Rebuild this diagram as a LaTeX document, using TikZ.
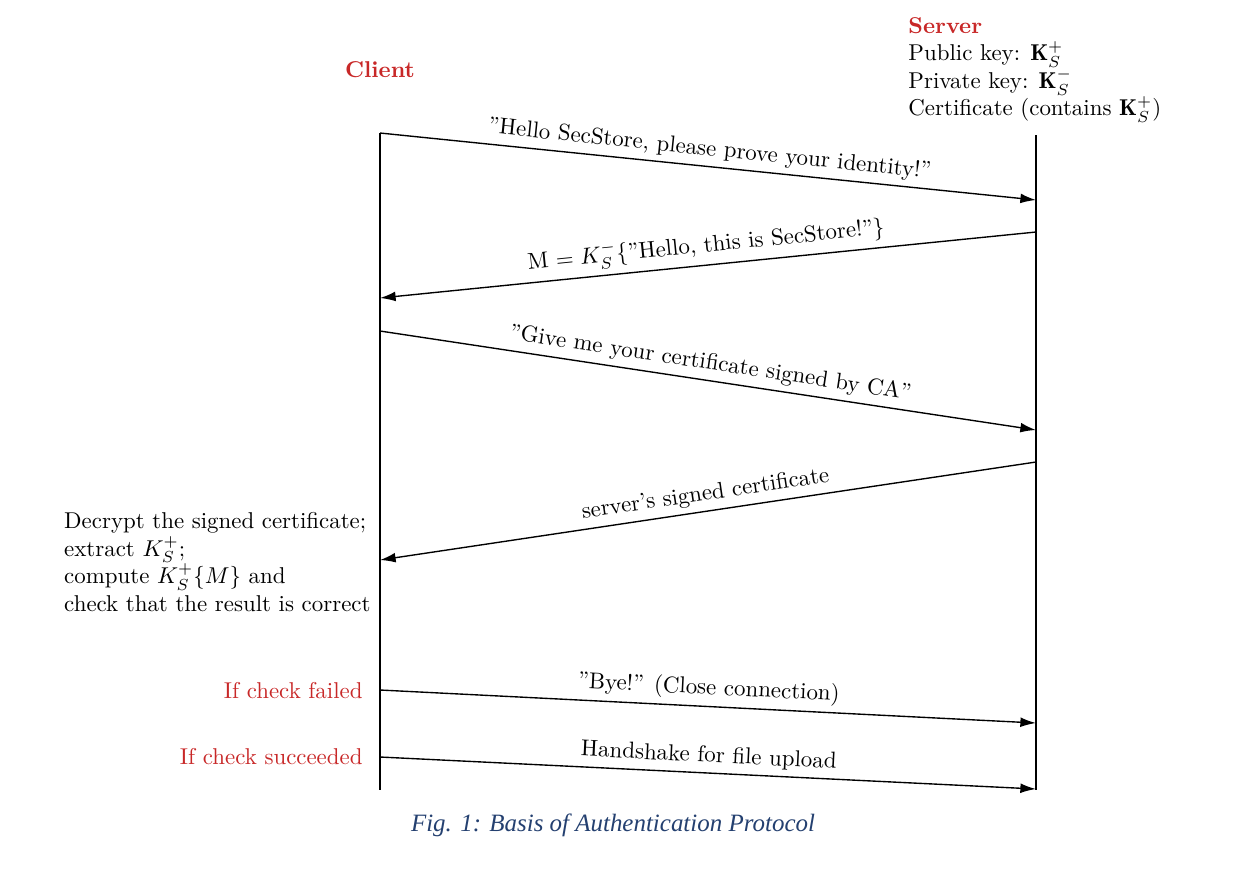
\documentclass[tikz,border=0pt]{standalone}
\usepackage{fontspec}
\newfontfamily\capfont{Liberation Serif}
\usetikzlibrary{arrows.meta}
\definecolor{lblred}{RGB}{200,40,40}
\definecolor{capblue}{RGB}{36,64,112}
\begin{document}
\begin{tikzpicture}[x=0.01535cm,y=-0.01535cm,
  lifeline/.style={line width=0.5pt},
  msg/.style={line width=0.6pt,-{Latex[length=2.4mm,width=1.5mm]}},
  msglabel/.style={sloped,above,inner sep=2.5pt,font=\normalsize},
  redlabel/.style={text=lblred,anchor=east,inner sep=0pt}]
\useasboundingbox (0,0) rectangle (1236,874);
% lifelines
\coordinate (ctop) at (380,133);
\coordinate (cbot) at (380,790);
\coordinate (stop) at (1036,135);
\coordinate (sbot) at (1036,790);
\draw[lifeline] (ctop) -- (cbot);
\draw[lifeline] (stop) -- (sbot);
% headers
\node[text=lblred,font=\bfseries] (client) at (380,70) {Client};
\node[anchor=north west,align=left,inner sep=0pt] (server) at (908,17)
  {\textcolor{lblred}{\bfseries Server}\\
   Public key: $\mathbf{K}^+_S$\\
   Private key: $\mathbf{K}^-_S$\\
   Certificate (contains $\mathbf{K}^+_S$)};
% message endpoints
\coordinate (a1) at (380,133);  \coordinate (b1) at (1036,200);
\coordinate (b2) at (1036,232); \coordinate (a2) at (380,298);
\coordinate (a3) at (380,331);  \coordinate (b3) at (1036,430);
\coordinate (b4) at (1036,462); \coordinate (a4) at (380,560);
\coordinate (a5) at (380,690);  \coordinate (b5) at (1036,723);
\coordinate (a6) at (380,757);  \coordinate (b6) at (1036,789);
\draw[msg] (a1) -- node[msglabel] (l1) {''Hello SecStore, please prove your identity!''} (b1);
\draw[msg] (b2) -- node[msglabel] (l2) {M $=K^-_S\{$''Hello, this is SecStore!''$\}$} (a2);
\draw[msg] (a3) -- node[msglabel] (l3) {''Give me your certificate signed by CA''} (b3);
\draw[msg] (b4) -- node[msglabel] (l4) {server's signed certificate} (a4);
\draw[msg] (a5) -- node[msglabel] (l5) {''Bye!'' (Close connection)} (b5);
\draw[msg] (a6) -- node[msglabel] (l6) {Handshake for file upload} (b6);
% side notes
\node[anchor=east,align=left,inner sep=0pt] (check) at (371,562)
  {Decrypt the signed certificate;\\
   extract $K^+_S$;\\
   compute $K^+_S\{M\}$ and\\
   check that the result is correct};
\node[redlabel] (fail) at (363,691) {If check failed};
\node[redlabel] (succ) at (363,757) {If check succeeded};
% caption
\node[text=capblue,font=\capfont\itshape\fontsize{10.9}{13}\selectfont] (cap) at (613,825)
  {Fig. 1: Basis of Authentication Protocol};
\end{tikzpicture}
\end{document}
